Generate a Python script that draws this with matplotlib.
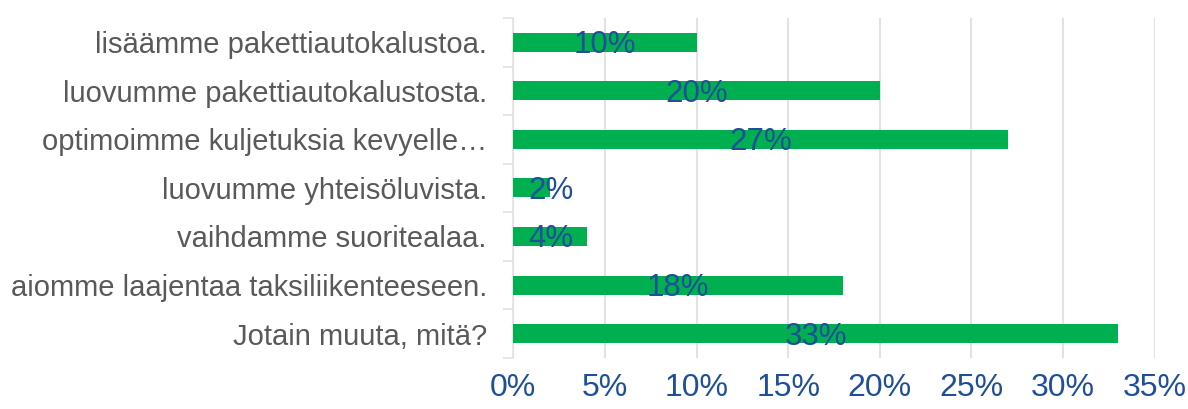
import matplotlib.pyplot as plt
from matplotlib.ticker import FuncFormatter

plt.rcParams['font.family'] = ['Liberation Sans', 'DejaVu Sans']

# vastausvaihtoehdot ja osuudet (%)
categories = [
    "lisäämme pakettiautokalustoa.",
    "luovumme pakettiautokalustosta.",
    "optimoimme kuljetuksia kevyelle…",
    "luovumme yhteisöluvista.",
    "vaihdamme suoritealaa.",
    "aiomme laajentaa taksiliikenteeseen.",
    "Jotain muuta, mitä?",
]
shares = [10, 20, 27, 2, 4, 18, 33]
xticks = [0, 5, 10, 15, 20, 25, 30, 35]

GREEN = "#00B050"
BLUE = "#1F4E9A"
GRAY = "#595959"
GRID = "#E2E2E2"

fig = plt.figure(figsize=(11.88, 4.09), dpi=100)
ax = fig.add_axes([0.432, 0.125, 0.540, 0.831])

ypos = list(range(len(categories)))
ax.barh(ypos, shares, height=0.39, color=GREEN, zorder=3)

# arvo palkin keskelle; lyhyillä palkeilla teksti pidetään akselin sisällä
for y, v in zip(ypos, shares):
    ax.text(max(v / 2, 2.05), y + 0.06, f"{v}%", ha="center", va="center",
            fontsize=22.5, color=BLUE, zorder=4)

ax.set_ylim(len(categories) - 0.5, -0.5)
ax.set_xlim(0, 35)
ax.set_xticks(xticks)
ax.xaxis.set_major_formatter(FuncFormatter(lambda v, _: f"{v:.0f}%"))
ax.set_yticks(ypos)
ax.set_yticklabels(categories)
ax.set_yticks([i - 0.5 for i in range(len(categories) + 1)], minor=True)

ax.tick_params(axis="y", which="major", length=0, pad=19,
               labelsize=21, labelcolor=GRAY)
ax.tick_params(axis="y", which="minor", length=7, width=1.2, color=GRID)
ax.tick_params(axis="x", length=0, pad=11, labelsize=23, labelcolor=BLUE)

ax.grid(axis="x", color=GRID, lw=1.5, zorder=0)
for s in ("top", "right", "bottom"):
    ax.spines[s].set_visible(False)
ax.spines["left"].set_color(GRID)
ax.spines["left"].set_linewidth(1.2)

fig.savefig("out.png", dpi=100)
